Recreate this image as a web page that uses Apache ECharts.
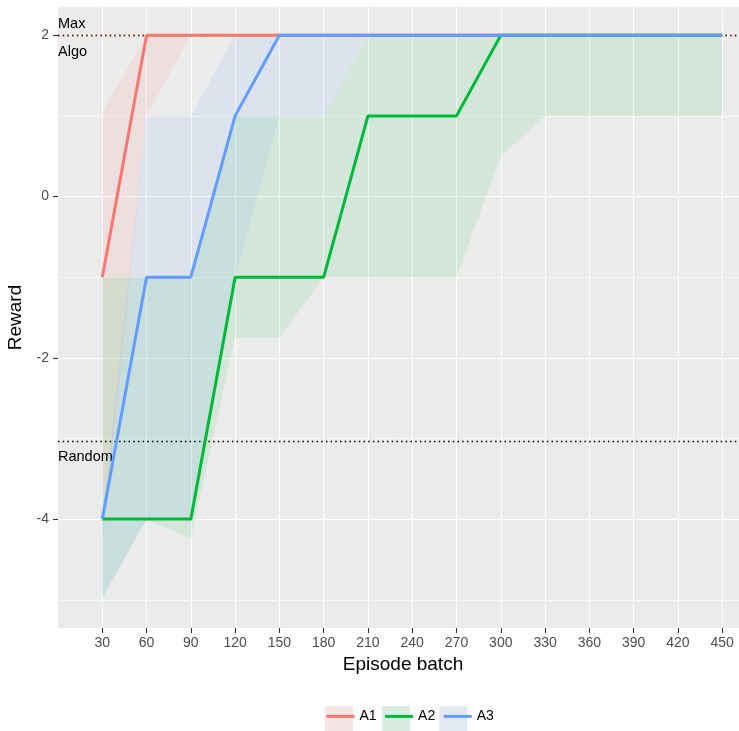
<!DOCTYPE html>
<html><head><meta charset="utf-8">
<script src="https://cdn.jsdelivr.net/npm/echarts@6/dist/echarts.min.js"></script>
<style>html,body{margin:0;padding:0;background:#fff}#c{width:739px;height:731px}</style>
</head><body><div id="c"></div>
<script>
// ---- data ----
const episodes = [30, 60, 90, 120, 150, 180, 210, 240, 270, 300, 330, 360, 390, 420, 450];
const seriesNames = ['A1', 'A2', 'A3'];
const a1Mean = [-1, 2, 2, 2, 2, 2, 2, 2, 2, 2, 2, 2, 2, 2, 2];
const a2Mean = [-4, -4, -4, -1, -1, -1, 1, 1, 1, 2, 2, 2, 2, 2, 2];
const a3Mean = [-4, -1, -1, 1, 2, 2, 2, 2, 2, 2, 2, 2, 2, 2, 2];
const a1Low  = [-4.35, 1, 2, 2, 2, 2, 2, 2, 2, 2, 2, 2, 2, 2, 2];
const a1High = [1.05, 2, 2, 2, 2, 2, 2, 2, 2, 2, 2, 2, 2, 2, 2];
const a2Low  = [-4.97, -4, -4.24, -1.75, -1.75, -1, -1, -1, -1, 0.5, 1, 1, 1, 1, 1];
const a2High = [-1, -1, -1, 1, 1, 1, 2, 2, 2, 2, 2, 2, 2, 2, 2];
const a3Low  = [-5, -4, -4, -1, 1, 1, 2, 2, 2, 2, 2, 2, 2, 2, 2];
const a3High = [-4, 1, 1, 2, 2, 2, 2, 2, 2, 2, 2, 2, 2, 2, 2];
const xTicks = [30, 60, 90, 120, 150, 180, 210, 240, 270, 300, 330, 360, 390, 420, 450];
const yTicks = [-4, -2, 0, 2];
const yMinorTicks = [-5, -3, -1, 1];
const maxReward = 2;
const algoReward = 2;
const randomReward = -3.03;

// ---- styling ----
const FONT = 'Liberation Sans, Arial, sans-serif';
const colors = ['#F8766D', '#00BA38', '#619CFF'];
const keyBg = ['#F3E6E5', '#DAECDF', '#E3E9F3'];
const means = [a1Mean, a2Mean, a3Mean];
const lows = [a1Low, a2Low, a3Low];
const highs = [a1High, a2High, a3High];

function pairs(xs, ys) { return xs.map((x, i) => [x, ys[i]]); }

const bandSeries = seriesNames.map((n, k) => ({
  type: 'custom',
  name: n + ' band',
  coordinateSystem: 'cartesian2d',
  clip: true,
  silent: true,
  z: 2,
  data: [0],
  renderItem: function (params, api) {
    const pts = [];
    for (let i = 0; i < episodes.length; i++) pts.push(api.coord([episodes[i], highs[k][i]]));
    for (let i = episodes.length - 1; i >= 0; i--) pts.push(api.coord([episodes[i], lows[k][i]]));
    return { type: 'polygon', shape: { points: pts }, style: { fill: colors[k], opacity: 0.1 } };
  }
}));

const refLabel = (txt, pos, d) => ({
  show: true, formatter: txt, position: pos, distance: [0, d],
  color: '#000', fontSize: 14.5, fontFamily: FONT
});

const refSeries = {
  type: 'line', name: 'ref', data: [], z: 3, silent: true,
  markLine: {
    silent: true, symbol: ['none', 'none'], animation: false, z: 3,
    data: [
      { yAxis: maxReward, lineStyle: { color: '#7a1c1c', type: [1.5, 3.2], width: 1.3 }, label: refLabel('Max', 'insideStartTop', 4) },
      { yAxis: algoReward, lineStyle: { color: '#7a1c1c', type: [1.5, 3.2], width: 1.3 }, label: refLabel('Algo', 'insideStartBottom', 9) },
      { yAxis: randomReward, lineStyle: { color: '#000', type: [1.5, 3.2], width: 1.3 }, label: refLabel('Random', 'insideStartBottom', 9) }
    ]
  }
};

const lineSeries = seriesNames.map((n, k) => ({
  type: 'line', name: n, data: pairs(episodes, means[k]),
  symbol: 'none', z: 10,
  lineStyle: { color: colors[k], width: 3 },
  itemStyle: { color: colors[k] }
}));

const legendCommon = {
  orient: 'horizontal', left: 325, top: 706,
  itemWidth: 28, itemHeight: 26, itemGap: 7,
  selectedMode: false, padding: 0
};

const option = {
  animation: false,
  backgroundColor: '#fff',
  grid: { left: 58, right: 0, top: 7, bottom: 103, containLabel: false, outerBoundsMode: 'none',
          show: true, backgroundColor: '#EBEBEB', borderWidth: 0 },
  xAxis: {
    type: 'value', min: 0, max: 461.4,
    name: 'Episode batch', nameLocation: 'middle', nameGap: 25,
    nameTextStyle: { color: '#000', fontSize: 19, fontFamily: FONT, padding: [0, 0, 0, 9] },
    axisLine: { show: false, onZero: false },
    axisTick: { show: true, length: 5, customValues: xTicks, lineStyle: { color: '#333', width: 1.1 } },
    axisLabel: { customValues: xTicks, color: '#4D4D4D', fontSize: 14, fontFamily: FONT, margin: 8 },
    splitLine: { show: true, lineStyle: { color: '#fff', width: 1.1 } }
  },
  yAxis: [{
    type: 'value', min: -5.35, max: 2.35,
    name: 'Reward', nameLocation: 'middle', nameGap: 27, nameRotate: 90,
    nameTextStyle: { color: '#000', fontSize: 19, fontFamily: FONT },
    axisLine: { show: false, onZero: false },
    axisTick: { show: true, length: 5, customValues: yTicks, lineStyle: { color: '#333', width: 1.1 } },
    axisLabel: { customValues: yTicks, color: '#4D4D4D', fontSize: 14, fontFamily: FONT, margin: 9,
                 formatter: v => String(v) },
    splitLine: { show: true, lineStyle: { color: '#fff', width: 1.1 } }
  }, {
    type: 'value', min: -5.35, max: 2.35, position: 'left',
    axisLine: { show: false, onZero: false },
    axisTick: { show: false, customValues: yMinorTicks },
    axisLabel: { show: false, customValues: yMinorTicks },
    splitLine: { show: true, lineStyle: { color: '#fff', width: 0.55 } }
  }],
  legend: [
    Object.assign({}, legendCommon, {
      z: 1,
      data: seriesNames.map((n, k) => ({ name: n, icon: 'rect',
        itemStyle: { color: keyBg[k], borderWidth: 0, borderColor: 'rgba(0,0,0,0)' } })),
      textStyle: { color: 'rgba(0,0,0,0)', fontSize: 14, fontFamily: FONT }
    }),
    Object.assign({}, legendCommon, {
      z: 2,
      data: seriesNames.slice(),
      itemStyle: { color: 'rgba(0,0,0,0)', borderColor: 'rgba(0,0,0,0)', borderWidth: 0 },
      lineStyle: { width: 3 },
      textStyle: { color: '#000', fontSize: 14, fontFamily: FONT }
    })
  ],
  series: bandSeries.concat([refSeries]).concat(lineSeries)
};

const chart = echarts.init(document.getElementById('c'), null, { renderer: 'canvas' });
chart.setOption(option);
</script>
</body></html>
